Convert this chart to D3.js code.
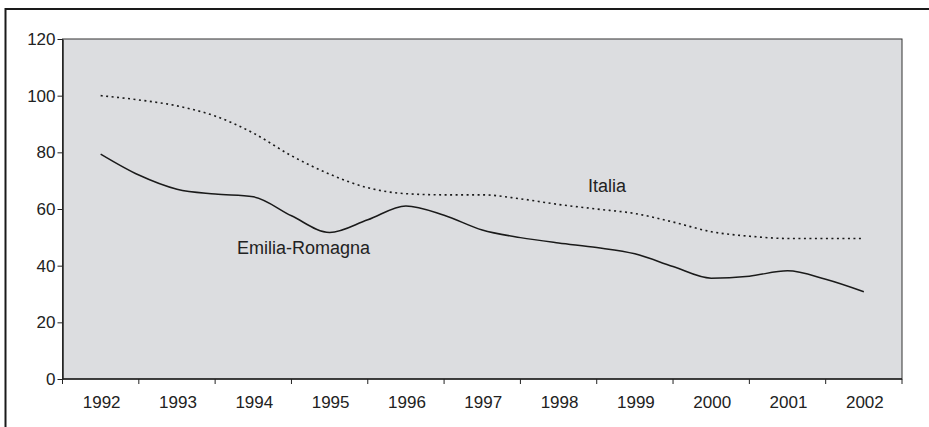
<!DOCTYPE html>
<html>
<head>
<meta charset="utf-8">
<script src="https://cdn.jsdelivr.net/npm/d3@7"></script>
<style>
  html, body { margin: 0; padding: 0; background: #fff; }
  svg { display: block; }
  text { font-family: "Liberation Sans", Arial, Helvetica, sans-serif; fill: #222; }
</style>
</head>
<body>
<svg id="chart" width="929" height="427"></svg>
<script>
// Categories (x axis labels)
const years = ["1992","1993","1994","1995","1996","1997","1998","1999","2000","2001","2002"];
// Semi-annual observation times (fractional year)
const times = [1992,1992.5,1993,1993.5,1994,1994.5,1995,1995.5,1996,1996.5,1997,1997.5,1998,1998.5,1999,1999.5,2000,2000.5,2001,2001.5,2002];
// Series values
const emiliaRomagna = [79.4,72,67,65.3,64.3,57.6,51.7,56.2,61.1,57.8,52.6,49.9,48,46.4,44.2,39.7,35.6,36.3,38.2,35.2,30.8];
const italia = [100,98.5,96.4,92.8,86.8,78.8,72.3,67.5,65.4,65,65,63.6,61.6,60,58.4,55.4,52,50.4,49.6,49.6,49.6];
const yTicks = [0,20,40,60,80,100,120];
const seriesLabels = ["Emilia-Romagna","Italia"];

const svg = d3.select("#chart");
const W = 929, H = 427;
const m = { left: 62.5, right: 929 - 902, top: 39, bottom: 427 - 379 };

// outer frame (top and left)
svg.append("line").attr("x1", 5.5).attr("x2", W).attr("y1", 9).attr("y2", 9)
  .attr("stroke", "#1a1a1a").attr("stroke-width", 2);
svg.append("line").attr("x1", 5.5).attr("x2", 5.5).attr("y1", 8).attr("y2", H)
  .attr("stroke", "#1a1a1a").attr("stroke-width", 2);

const x = d3.scaleBand().domain(years).range([m.left, W - m.right]).padding(0);
const xt = d3.scaleLinear().domain([1992, 2002])
  .range([x("1992") + x.bandwidth() / 2, x("2002") + x.bandwidth() / 2]);
const y = d3.scaleLinear().domain([0, 120]).range([H - m.bottom, m.top]);

// plot background
svg.append("rect")
  .attr("x", m.left).attr("y", m.top)
  .attr("width", W - m.right - m.left).attr("height", H - m.bottom - m.top)
  .attr("fill", "#dcdde0").attr("stroke", "#333").attr("stroke-width", 1);

// y axis
const yAxis = svg.append("g").attr("transform", `translate(${m.left},0)`)
  .call(d3.axisLeft(y).tickValues(yTicks).tickSize(5).tickPadding(2).tickSizeOuter(0));
yAxis.select(".domain").attr("stroke", "#222").attr("stroke-width", 1.5);
yAxis.selectAll(".tick line").attr("stroke", "#222");
yAxis.selectAll("text").style("font-size", "17px").attr("fill", "#222");

// x axis with ticks between categories
const xAxisG = svg.append("g").attr("transform", `translate(0,${H - m.bottom})`);
xAxisG.append("line").attr("x1", m.left).attr("x2", W - m.right).attr("y1", 0).attr("y2", 0)
  .attr("stroke", "#222").attr("stroke-width", 1.5);
const edges = years.map(d => x(d)).concat([x(years[years.length - 1]) + x.bandwidth()]);
xAxisG.selectAll("line.tk").data(edges).enter().append("line").attr("class", "tk")
  .attr("x1", d => d).attr("x2", d => d).attr("y1", 0).attr("y2", 5)
  .attr("stroke", "#222").attr("stroke-width", 1);
xAxisG.selectAll("text.lbl").data(years).enter().append("text").attr("class", "lbl")
  .attr("x", d => x(d) + x.bandwidth() / 2 + 1).attr("y", 29)
  .attr("text-anchor", "middle").style("font-size", "17px").text(d => d);

// lines
const line = d3.line().x((d, i) => xt(times[i])).y(d => y(d)).curve(d3.curveMonotoneX);

svg.append("path").datum(italia).attr("d", line)
  .attr("fill", "none").attr("stroke", "#1a1a1a").attr("stroke-width", 1.6)
  .attr("stroke-dasharray", "2,3.5");
svg.append("path").datum(emiliaRomagna).attr("d", line)
  .attr("fill", "none").attr("stroke", "#1a1a1a").attr("stroke-width", 1.5);

// series labels
svg.append("text").attr("x", 237).attr("y", 254).style("font-size", "18px").text(seriesLabels[0]);
svg.append("text").attr("x", 588).attr("y", 192).style("font-size", "18px").text(seriesLabels[1]);
</script>
</body>
</html>
